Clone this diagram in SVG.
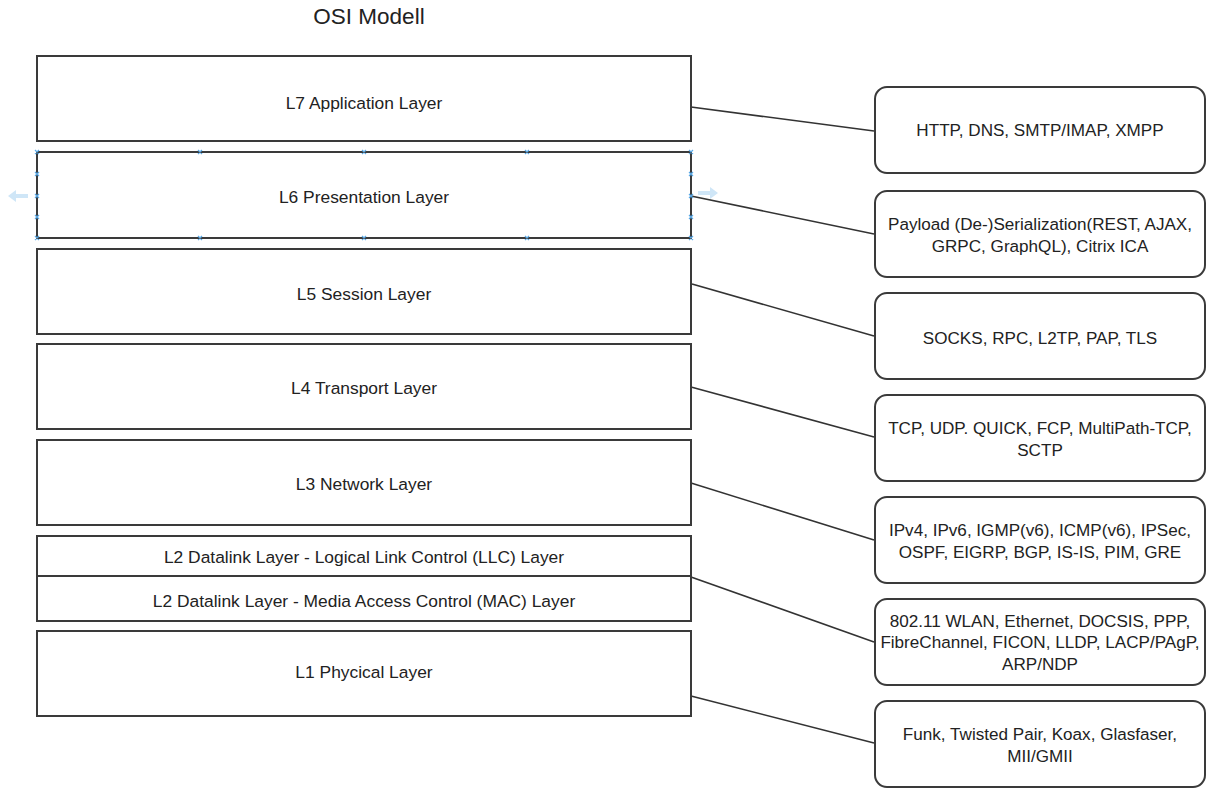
<svg xmlns="http://www.w3.org/2000/svg" width="1209" height="788" viewBox="0 0 1209 788">
<style>
.layer{fill:#fff;stroke:#3a3a3a;stroke-width:2}
.proto{fill:#fff;stroke:#3a3a3a;stroke-width:2}
.lt{font-family:"Liberation Sans",Arial,sans-serif;font-size:17.4px;fill:#222;text-anchor:middle;dominant-baseline:central}
.rt{font-family:"Liberation Sans",Arial,sans-serif;font-size:17.1px;fill:#222;text-anchor:middle}
.title{font-family:"Liberation Sans",Arial,sans-serif;font-size:22.5px;fill:#222;text-anchor:middle}
.conn{fill:none;stroke:#333;stroke-width:1.6}
.h{stroke:#5aa9e6;stroke-width:1.2}
.ga{fill:#cfe6f7}
</style>
<rect width="1209" height="788" fill="#fff"/>
<text class="title" x="369" y="24">OSI Modell</text>

<g id="connectors">
<line class="conn" x1="691" y1="107" x2="874" y2="131"/>
<line class="conn" x1="691" y1="196" x2="874" y2="234"/>
<line class="conn" x1="692" y1="284" x2="874" y2="336"/>
<line class="conn" x1="691" y1="387" x2="874" y2="437"/>
<line class="conn" x1="691" y1="483" x2="874" y2="540"/>
<line class="conn" x1="691" y1="577" x2="874" y2="642"/>
<line class="conn" x1="691" y1="696" x2="874" y2="743"/>
</g>

<g id="l7"><rect class="layer" x="37" y="56" width="654" height="85"/><text class="lt" x="364" y="103">L7 Application Layer</text></g>
<g id="l6"><rect class="layer" x="37" y="152" width="654" height="86"/><text class="lt" x="364" y="197">L6 Presentation Layer</text></g>
<g id="l5"><rect class="layer" x="37" y="249" width="654" height="85"/><text class="lt" x="364" y="294">L5 Session Layer</text></g>
<g id="l4"><rect class="layer" x="37" y="344" width="654" height="85"/><text class="lt" x="364" y="388">L4 Transport Layer</text></g>
<g id="l3"><rect class="layer" x="37" y="440" width="654" height="85"/><text class="lt" x="364" y="484">L3 Network Layer</text></g>
<g id="l2llc"><rect class="layer" x="37" y="536" width="654" height="40"/><text class="lt" x="364" y="557">L2 Datalink Layer - Logical Link Control (LLC) Layer</text></g>
<g id="l2mac"><rect class="layer" x="37" y="576" width="654" height="45"/><text class="lt" x="364" y="601">L2 Datalink Layer - Media Access Control (MAC) Layer</text></g>
<g id="l1"><rect class="layer" x="37" y="631" width="654" height="85"/><text class="lt" x="364" y="672">L1 Phycical Layer</text></g>

<g id="selection">
<path class="ga" d="M8 196 l8 -6 v4 h12 v4 h-12 v4 z"/>
<path class="ga" d="M718 193 l-8 -6 v4 h-12 v4 h12 v4 z"/>
<g class="h">
<path d="M35 150l4 4M39 150l-4 4M198 150l4 4M202 150l-4 4M362 150l4 4M366 150l-4 4M525 150l4 4M529 150l-4 4M689 150l4 4M693 150l-4 4"/>
<path d="M35 236l4 4M39 236l-4 4M198 236l4 4M202 236l-4 4M362 236l4 4M366 236l-4 4M525 236l4 4M529 236l-4 4M689 236l4 4M693 236l-4 4"/>
<path d="M35 172l4 4M39 172l-4 4M35 194l4 4M39 194l-4 4M35 215l4 4M39 215l-4 4"/>
<path d="M689 172l4 4M693 172l-4 4M689 194l4 4M693 194l-4 4M689 215l4 4M693 215l-4 4"/>
</g>
</g>

<g id="p7"><rect class="proto" x="875" y="87" width="330" height="86" rx="12"/><text class="rt" x="1040" y="136">HTTP, DNS, SMTP/IMAP, XMPP</text></g>
<g id="p6"><rect class="proto" x="875" y="191" width="330" height="86" rx="12"/><text class="rt" x="1040" y="230">Payload (De-)Serialization(REST, AJAX,</text><text class="rt" x="1040" y="252">GRPC, GraphQL), Citrix ICA</text></g>
<g id="p5"><rect class="proto" x="875" y="293" width="330" height="86" rx="12"/><text class="rt" x="1040" y="344">SOCKS, RPC, L2TP, PAP, TLS</text></g>
<g id="p4"><rect class="proto" x="875" y="395" width="330" height="86" rx="12"/><text class="rt" x="1040" y="434">TCP, UDP. QUICK, FCP, MultiPath-TCP,</text><text class="rt" x="1040" y="456">SCTP</text></g>
<g id="p3"><rect class="proto" x="875" y="497" width="330" height="86" rx="12"/><text class="rt" x="1040" y="536">IPv4, IPv6, IGMP(v6), ICMP(v6), IPSec,</text><text class="rt" x="1040" y="558">OSPF, EIGRP, BGP, IS-IS, PIM, GRE</text></g>
<g id="p2"><rect class="proto" x="875" y="599" width="330" height="86" rx="12"/><text class="rt" x="1040" y="627">802.11 WLAN, Ethernet, DOCSIS, PPP,</text><text class="rt" x="1040" y="648">FibreChannel, FICON, LLDP, LACP/PAgP,</text><text class="rt" x="1040" y="670">ARP/NDP</text></g>
<g id="p1"><rect class="proto" x="875" y="701" width="330" height="86" rx="12"/><text class="rt" x="1040" y="740">Funk, Twisted Pair, Koax, Glasfaser,</text><text class="rt" x="1040" y="762">MII/GMII</text></g>
</svg>
